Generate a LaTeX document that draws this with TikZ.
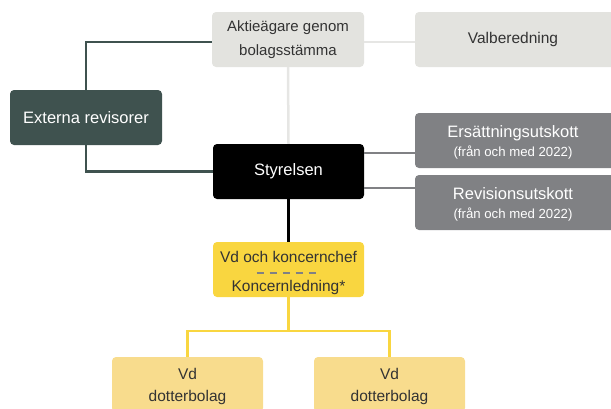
\documentclass[tikz,border=0pt]{standalone}
\usepackage{fontspec}
\setmainfont{Liberation Sans}
\usetikzlibrary{calc}
\definecolor{lightbox}{HTML}{E3E3DF}
\definecolor{lightline}{HTML}{E6E6E4}
\definecolor{darkgreen}{HTML}{3F524F}
\definecolor{midgray}{HTML}{808184}
\definecolor{vdyellow}{HTML}{F9D640}
\definecolor{paleyellow}{HTML}{F8DC8D}
\definecolor{txtdark}{HTML}{333333}
\tikzset{
  box/.style={rectangle, rounded corners=4pt, inner sep=0pt, align=center, minimum height=55pt},
  lightbx/.style={box, fill=lightbox, text=txtdark},
  committee/.style={box, fill=midgray, text=white, minimum width=200pt},
  conn/.style={line width=2.5pt},
  mainfont/.style={font=\fontsize{16.5}{24}\selectfont},
}
\newcommand{\smalltxt}[1]{{\fontsize{13.2}{14}\selectfont #1}}
\newcommand{\strutup}[1]{\rule{0pt}{#1}}
\begin{document}
\begin{tikzpicture}[x=1pt,y=-1pt]
\useasboundingbox (0,0) rectangle (611,408);
% nodes
\node[lightbx, minimum width=152pt, font=\fontsize{15}{24}\selectfont] (aktie) at (288,39.5) {Aktieägare genom\\bolagsstämma};
\node[lightbx, minimum width=200pt, font=\fontsize{15.5}{18}\selectfont] (valb) at (515,39.5) {\hspace*{-4pt}Valberedning};
\node[box, fill=darkgreen, text=white, minimum width=152pt, mainfont] (ext) at (86,117.5) {Externa revisorer};
\node[box, fill=black, text=white, minimum width=151pt, mainfont] (styr) at (288.5,171.5) {Styrelsen};
\node[committee, font=\fontsize{16.5}{18}\selectfont] (ers) at (515,140.5) {\strutup{15.5pt}\hspace*{-4pt}Ersättningsutskott\\[0.5pt]\hspace*{-4pt}\smalltxt{(från och med 2022)}};
\node[committee, font=\fontsize{16.5}{18}\selectfont] (rev) at (515,202.5) {\strutup{15.5pt}\hspace*{-4pt}Revisionsutskott\\[0.5pt]\hspace*{-4pt}\smalltxt{(från och med 2022)}};
\node[box, fill=vdyellow, text=txtdark, minimum width=151pt, font=\fontsize{15.5}{29}\selectfont] (vd) at (288.5,269.5) {\strutup{19pt}Vd och koncernchef\\Koncernledning*};
\node[box, fill=paleyellow, text=txtdark, minimum width=151pt, font=\fontsize{15.5}{22}\selectfont] (d1) at (187.5,384.5) {\strutup{16pt}Vd\\dotterbolag};
\node[box, fill=paleyellow, text=txtdark, minimum width=151pt, font=\fontsize{15.5}{22}\selectfont] (d2) at (389.5,384.5) {\strutup{16pt}Vd\\dotterbolag};
% dashed separator in vd box
\draw[midgray, line width=2pt, dash pattern=on 7pt off 6pt] ($(vd.center)+(-32,3)$) -- ($(vd.center)+(33,3)$);
% connectors
\draw[conn, lightline] (aktie.east |- 0,42) -- (valb.west |- 0,42);
\draw[conn, lightline] (aktie.south) -- (styr.north);
\draw[conn, darkgreen] (ext.north) |- (aktie.west |- 0,42);
\draw[conn, darkgreen] (ext.south) |- (styr.west);
\draw[conn, midgray] (styr.east |- 0,153) -- (ers.west |- 0,153);
\draw[conn, midgray] (styr.east |- 0,188) -- (rev.west |- 0,188);
\draw[conn, black] (styr.south) -- (vd.north);
\coordinate (split) at (288.5,331);
\draw[conn, vdyellow] (vd.south) -- (split);
\draw[conn, vdyellow] (d1.north) |- (split) -| (d2.north);
\end{tikzpicture}
\end{document}
